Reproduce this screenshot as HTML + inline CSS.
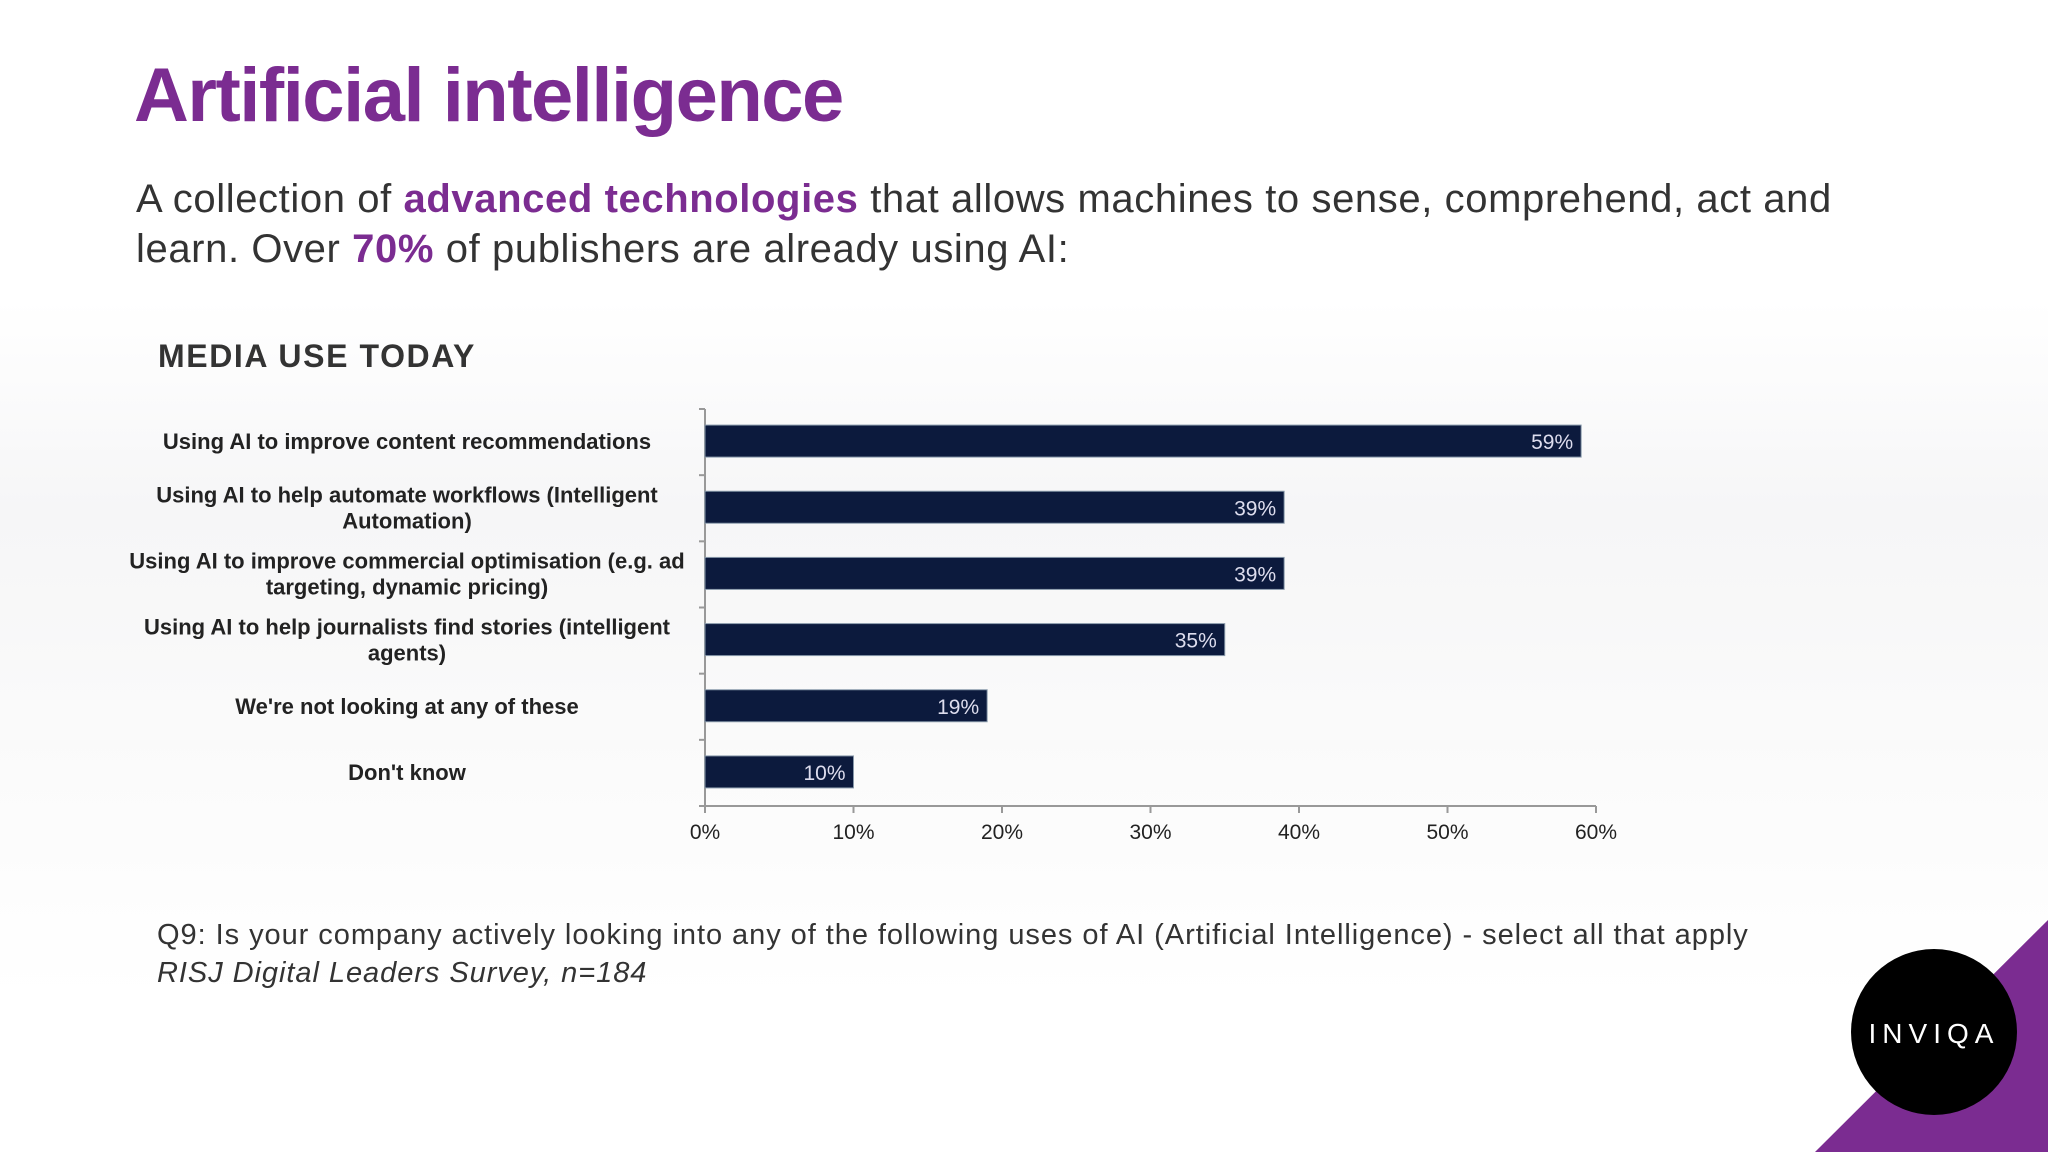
<!DOCTYPE html>
<html><head><meta charset="utf-8"><style>
body{margin:0;width:2048px;height:1152px;overflow:hidden;background:#fff;font-family:"Liberation Sans",sans-serif;position:relative}
.abs{position:absolute}
</style></head><body>
<div class="abs" style="left:0;top:300px;width:2048px;height:700px;background:linear-gradient(180deg,#fff 0%,#f6f6f7 30%,#fafafa 60%,#fff 100%)"></div>
<div class="abs" style="left:134px;top:52px;font-size:76px;font-weight:bold;color:#7b2c91;letter-spacing:-1.5px">Artificial intelligence</div>
<div class="abs" style="left:136px;top:174px;font-size:40px;line-height:50px;color:#333;width:1760px;letter-spacing:0.6px">A collection of <b style="color:#7b2c91">advanced technologies</b> that allows machines to sense, comprehend, act and learn. Over <b style="color:#7b2c91">70%</b> of publishers are already using AI:</div>
<div class="abs" style="left:158px;top:338px;font-size:32px;font-weight:bold;color:#333;letter-spacing:1.6px">MEDIA USE TODAY</div>
<svg class="abs" style="left:0;top:0" width="2048" height="1152" id="chart"></svg>
<div class="abs" style="left:157px;top:919px;font-size:29px;color:#333;letter-spacing:0.95px">Q9: Is your company actively looking into any of the following uses of AI (Artificial Intelligence) - select all that apply</div>
<div class="abs" style="left:157px;top:957px;font-size:29px;color:#333;font-style:italic;letter-spacing:0.95px">RISJ Digital Leaders Survey, n=184</div>
<svg class="abs" style="left:0;top:0" width="2048" height="1152">
<polygon points="2048,920 2048,1152 1815,1152" fill="#7b2c91"/>
<circle cx="1934" cy="1032" r="83" fill="#000"/>
<text x="1934" y="1043" text-anchor="middle" fill="#fff" font-size="28" letter-spacing="6" font-family="Liberation Sans, sans-serif">INVIQA</text>
</svg>
<script>
const categories=[["Using AI to improve content recommendations"],["Using AI to help automate workflows (Intelligent","Automation)"],["Using AI to improve commercial optimisation (e.g. ad","targeting, dynamic pricing)"],["Using AI to help journalists find stories (intelligent","agents)"],["We're not looking at any of these"],["Don't know"]];
const values=[59,39,39,35,19,10];
const ticks=[0,10,20,30,40,50,60];
const svg=document.getElementById('chart');
const NS='http://www.w3.org/2000/svg';
const x0=705,x1=1596,yTop=409,yBot=806;
const xs=v=>x0+(x1-x0)*v/60;
const band=(yBot-yTop)/categories.length;
const yc=i=>yTop+band*(i+0.5)-1;
function mk(t,a){const e=document.createElementNS(NS,t);for(const k in a)e.setAttribute(k,a[k]);svg.appendChild(e);return e;}
let ax=mk('line',{x1:x0,y1:yTop,x2:x0,y2:yBot,stroke:'#999','stroke-width':2});


let bx=mk('line',{x1:x0,y1:yBot,x2:x1,y2:yBot,stroke:'#999','stroke-width':2});


for(let i=0;i<=categories.length;i++){mk('line',{x1:x0-6,y1:yTop+band*i,x2:x0,y2:yTop+band*i,stroke:'#999','stroke-width':2});}
ticks.forEach(t=>{
 mk('line',{x1:xs(t),y1:yBot,x2:xs(t),y2:yBot+7,stroke:'#999','stroke-width':2});
 const tx=mk('text',{x:xs(t),y:yBot+33,'text-anchor':'middle','font-size':21,fill:'#222','font-family':'Liberation Sans, sans-serif'});
 tx.textContent=t+'%';
 
 
});
values.forEach((v,i)=>{
 const r=mk('rect',{x:x0,y:yc(i)-16,width:xs(v)-x0,height:32,fill:'#0c1a3d',stroke:'#8899aa','stroke-width':1});
 
 
 const t=mk('text',{x:xs(v)-8,y:yc(i)+8,'text-anchor':'end','font-size':21,fill:'#dde','font-family':'Liberation Sans, sans-serif'});
 t.textContent=v+'%';
 
 
 const lines=categories[i];
 lines.forEach((ln,j)=>{
  const c=mk('text',{x:407,y:yc(i)+8+(j-(lines.length-1)/2)*26,'text-anchor':'middle','font-size':22,'font-weight':'bold',fill:'#222','font-family':'Liberation Sans, sans-serif','letter-spacing':'0'});
  c.textContent=ln;
  
  
 });
});
</script>
</body></html>
